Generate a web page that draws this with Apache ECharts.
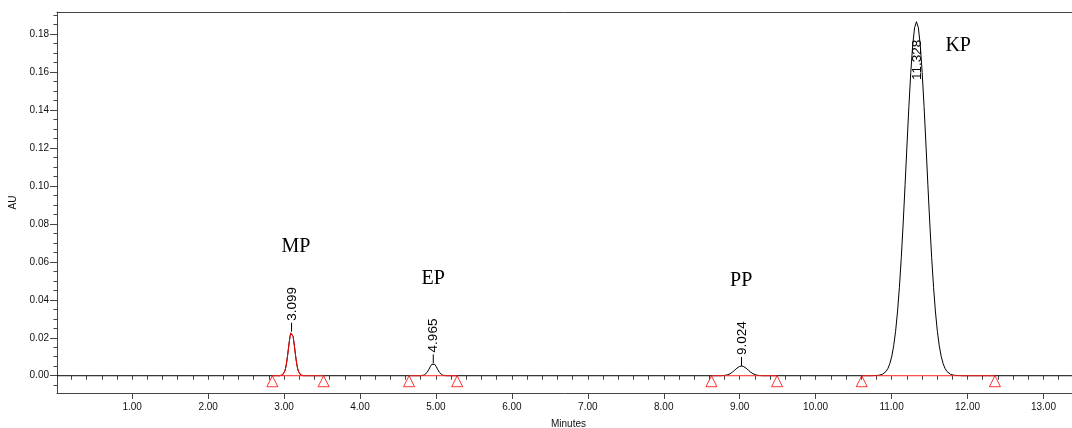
<!DOCTYPE html>
<html><head><meta charset="utf-8">
<script src="https://cdn.jsdelivr.net/npm/echarts@6/dist/echarts.min.js"></script>
<style>html,body{margin:0;padding:0;background:#fff}#c{width:1072px;height:428px}</style>
</head><body><div id="c"></div>
<script>
// ---- data (minutes, AU) ----
const xMajorTicks = [1,2,3,4,5,6,7,8,9,10,11,12,13];
const yMajorTicks = [0,0.02,0.04,0.06,0.08,0.10,0.12,0.14,0.16,0.18];

const baseStart = [[0.01, 0]];
const peakMP = [[2.94,0],[2.96,0.00009],[2.979,0.00039],[2.999,0.00136],[3.009,0.00234],[3.019,0.00378],[3.029,0.00579],[3.039,0.00836],[3.049,0.01142],[3.059,0.01474],[3.069,0.01798],[3.079,0.0207],[3.089,0.02255],[3.099,0.0232],[3.109,0.02255],[3.119,0.0207],[3.129,0.01798],[3.139,0.01474],[3.149,0.01142],[3.159,0.00836],[3.169,0.00579],[3.179,0.00378],[3.189,0.00234],[3.199,0.00136],[3.219,0.00039],[3.239,0.00009],[3.26,0]];
const peakEP = [[4.80,0],[4.825,0.00013],[4.845,0.00036],[4.865,0.00088],[4.885,0.00181],[4.905,0.00316],[4.925,0.00472],[4.945,0.006],[4.965,0.0065],[4.985,0.006],[5.005,0.00472],[5.025,0.00316],[5.045,0.00181],[5.065,0.00088],[5.085,0.00036],[5.105,0.00013],[5.13,0]];
const peakPP = [[8.75,0],[8.784,0.0001],[8.814,0.00024],[8.844,0.00054],[8.874,0.00108],[8.904,0.00188],[8.934,0.00291],[8.964,0.00398],[8.994,0.00479],[9.024,0.0051],[9.054,0.00479],[9.084,0.00398],[9.114,0.00291],[9.144,0.00188],[9.174,0.00108],[9.204,0.00054],[9.234,0.00024],[9.264,0.0001],[9.30,0]];
const peakKP = [[10.728,0],[10.828,0.0002],[10.878,0.0007],[10.928,0.0023],[10.953,0.0039],[10.978,0.0065],[11.003,0.0103],[11.028,0.0158],[11.053,0.0234],[11.078,0.0336],[11.103,0.0465],[11.128,0.0622],[11.153,0.0805],[11.178,0.1006],[11.203,0.1215],[11.228,0.1418],[11.253,0.1598],[11.278,0.1741],[11.303,0.1833],[11.328,0.1865],[11.353,0.1833],[11.378,0.1741],[11.403,0.1598],[11.428,0.1418],[11.453,0.1215],[11.478,0.1006],[11.503,0.0805],[11.528,0.0622],[11.553,0.0465],[11.578,0.0336],[11.603,0.0234],[11.628,0.0158],[11.653,0.0103],[11.678,0.0065],[11.703,0.0039],[11.728,0.0023],[11.778,0.0007],[11.828,0.0002],[11.928,0]];
const baseEnd = [[13.376, 0]];

const peakRT = [3.099, 4.965, 9.024, 11.328];
const peakApex = [0.0232, 0.0065, 0.0051, 0.1865];
const peakRTLabels = ['3.099', '4.965', '9.024', '11.328'];

const integStart = [2.846, 4.646, 8.628, 10.607];
const integEnd = [3.521, 5.280, 9.492, 12.361];

const compoundNames = ['MP', 'EP', 'PP', 'KP'];
const compoundNameAnchor = [[3.156, 0.0682], [4.964, 0.0513], [9.020, 0.0500], [11.877, 0.1740]];

// ---- chart ----
const X_MIN = 0.01, X_MAX = 13.376, Y_MIN = -0.0091, Y_MAX = 0.1916;
const xMinorTicks = []; for (let i = 1; i <= 66; i++) xMinorTicks.push(+(i * 0.2).toFixed(1));
const yMinorTicks = []; for (let i = -1; i <= 38; i++) yMinorTicks.push(+(i * 0.005).toFixed(3));

const axisColor = '#444';
const labelFont = { fontFamily: 'Liberation Sans, Arial, sans-serif', fontSize: 10, color: '#111' };
const trace = [].concat(baseStart, peakMP, peakEP, peakPP, peakKP, baseEnd);

const series = [
  { type: 'line', data: trace, showSymbol: false, symbol: 'none', lineStyle: { color: '#000', width: 1 }, z: 3, silent: true },
  { type: 'line', data: peakMP, showSymbol: false, symbol: 'none', lineStyle: { color: '#ff0000', width: 1 }, z: 4, silent: true }
];
integStart.forEach((s, i) => {
  series.push({ type: 'line', data: [[s, 0], [integEnd[i], 0]], showSymbol: false, symbol: 'none', lineStyle: { color: '#ff2020', width: 1 }, z: 5, silent: true });
});
const tri = [];
integStart.forEach((s, i) => { tri.push([s, 0]); tri.push([integEnd[i], 0]); });
series.push({ type: 'scatter', data: tri, symbol: 'triangle', symbolSize: [11, 11], symbolOffset: [0, 5.5],
  itemStyle: { color: 'rgba(0,0,0,0)', borderColor: '#ff0000', borderWidth: 1 }, z: 6, silent: true });

series.push({
  type: 'custom', z: 7, silent: true, clip: false,
  data: peakRT.map((t, i) => [t, peakApex[i], i]),
  renderItem(params, api) {
    const i = api.value(2);
    const p = api.coord([api.value(0), api.value(1)]);
    const top = params.coordSys.y;
    const txt = peakRTLabels[i];
    const estLen = txt.length * 7.2;
    let start = p[1] - 9 - 2;
    const children = [];
    if (start - estLen < top) {
      start = top + 68;
    } else {
      children.push({ type: 'line', shape: { x1: p[0], y1: p[1], x2: p[0], y2: p[1] - 9 }, style: { stroke: '#000', lineWidth: 1 } });
    }
    children.push({ type: 'text', x: p[0] + 0.5, y: start, rotation: Math.PI / 2,
      style: { text: txt, x: 0, y: 0, align: 'left', verticalAlign: 'middle', fill: '#000',
        font: '13.5px "Liberation Sans", Arial, sans-serif' } });
    return { type: 'group', children };
  }
});

series.push({
  type: 'custom', z: 7, silent: true, clip: false,
  data: compoundNameAnchor.map((a, i) => [a[0], a[1], i]),
  renderItem(params, api) {
    const p = api.coord([api.value(0), api.value(1)]);
    return { type: 'text', x: p[0], y: p[1],
      style: { text: compoundNames[api.value(2)], align: 'center', verticalAlign: 'middle', fill: '#000',
        font: '20px "Liberation Serif", "Times New Roman", serif' } };
  }
});

const chart = echarts.init(document.getElementById('c'), null, { renderer: 'canvas' });
chart.setOption({
  animation: false,
  backgroundColor: '#fff',
  grid: { left: 57, right: 0, top: 12, bottom: 35, containLabel: false, outerBoundsMode: 'none' },
  xAxis: [
    { type: 'value', min: X_MIN, max: X_MAX, position: 'bottom',
      axisLine: { show: true, onZero: false, lineStyle: { color: axisColor, width: 1 } },
      axisTick: { show: true, customValues: xMajorTicks, length: 6, lineStyle: { color: axisColor } },
      axisLabel: Object.assign({ customValues: xMajorTicks, margin: 9, formatter: v => v.toFixed(2) }, labelFont),
      splitLine: { show: false },
      name: 'Minutes', nameLocation: 'middle', nameGap: 26,
      nameTextStyle: { fontFamily: 'Liberation Sans, Arial, sans-serif', fontSize: 10, color: '#111', padding: [0, 0, 0, 8] } },
    { type: 'value', min: X_MIN, max: X_MAX, position: 'bottom',
      axisLine: { show: false },
      axisTick: { show: true, customValues: xMinorTicks, length: 4, lineStyle: { color: axisColor } },
      axisLabel: { show: false }, splitLine: { show: false } },
    { type: 'value', min: X_MIN, max: X_MAX, position: 'top',
      axisLine: { show: true, onZero: false, lineStyle: { color: axisColor, width: 1 } },
      axisTick: { show: false }, axisLabel: { show: false }, splitLine: { show: false } }
  ],
  yAxis: [
    { type: 'value', min: Y_MIN, max: Y_MAX, position: 'left',
      axisLine: { show: true, onZero: false, lineStyle: { color: axisColor, width: 1 } },
      axisTick: { show: true, customValues: yMajorTicks, length: 7, lineStyle: { color: axisColor } },
      axisLabel: Object.assign({ customValues: yMajorTicks, margin: 8, formatter: v => v.toFixed(2) }, labelFont),
      splitLine: { show: false },
      name: 'AU', nameLocation: 'middle', nameGap: 37, nameRotate: 90,
      nameTextStyle: { fontFamily: 'Liberation Sans, Arial, sans-serif', fontSize: 10, color: '#111' } },
    { type: 'value', min: Y_MIN, max: Y_MAX, position: 'left',
      axisLine: { show: false },
      axisTick: { show: true, customValues: yMinorTicks, length: 3.5, lineStyle: { color: axisColor } },
      axisLabel: { show: false }, splitLine: { show: false } }
  ],
  series
});
</script></body></html>
